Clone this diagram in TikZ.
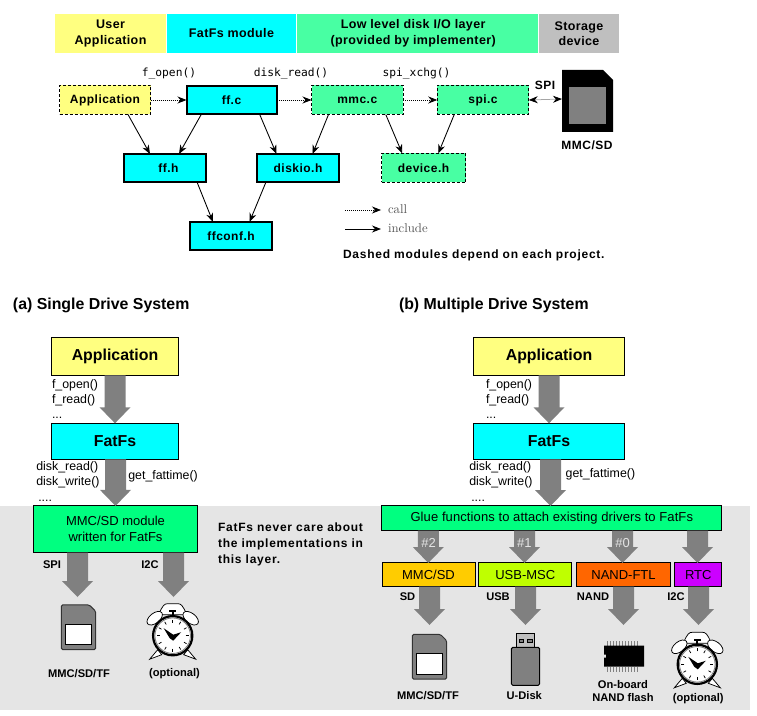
\documentclass[tikz,border=0pt]{standalone}
\usepackage{fontspec}
\setsansfont{Liberation Sans}
\setmonofont{DejaVu Sans Mono}
\usetikzlibrary{arrows.meta}
\definecolor{cFFFF80}{RGB}{255,255,128}
\definecolor{c00FFFF}{RGB}{0,255,255}
\definecolor{c48FFA3}{RGB}{72,255,163}
\definecolor{cBFBFBF}{RGB}{191,191,191}
\definecolor{c00FF80}{RGB}{0,255,128}
\definecolor{c808080}{RGB}{128,128,128}
\definecolor{cE5E5E5}{RGB}{229,229,229}
\definecolor{cFFCC00}{RGB}{255,204,0}
\definecolor{cBFFF00}{RGB}{191,255,0}
\definecolor{cFF6600}{RGB}{255,102,0}
\definecolor{cCC00FF}{RGB}{204,0,255}
\definecolor{c555555}{RGB}{85,85,85}
\tikzset{
  plainfont/.style={font=\sffamily\fontsize{10.4}{12.8}\selectfont},
  boldfont/.style={font=\sffamily\bfseries\fontsize{9.6}{12.8}\selectfont\addfontfeature{LetterSpace=4}},
  notefont/.style={font=\sffamily\bfseries\fontsize{9.6}{12.8}\selectfont\addfontfeature{LetterSpace=6.3}},
  iconfont/.style={font=\sffamily\bfseries\fontsize{8.9}{10.4}\selectfont},
  titlefont/.style={font=\sffamily\bfseries\fontsize{12.7}{15}\selectfont},
  headbar/.style={inner sep=0pt, font=\sffamily\bfseries\fontsize{10}{12.4}\selectfont\addfontfeature{LetterSpace=3}, align=center},
  modsolid/.style={draw=black, line width=1.6pt, fill=c00FFFF, inner sep=0pt, boldfont},
  moddash/.style={draw=black, line width=0.8pt, dash pattern=on 2.4pt off 1.6pt, inner sep=0pt, boldfont},
  tierbox/.style={draw=black, line width=0.8pt, inner sep=0pt, plainfont, align=center},
  apilabel/.style={font=\sffamily\fontsize{9.9}{12}\selectfont, inner sep=0pt, anchor=west},
  monolabel/.style={font=\ttfamily\fontsize{9}{11}\selectfont, inner sep=0pt},
  slotlabel/.style={plainfont, text=cE5E5E5, inner sep=0pt},
  keylabel/.style={anchor=west, text=c555555, font=\fontsize{10.2}{12}\selectfont},
  calledge/.style={draw=black, line width=0.6pt, densely dotted, -{Stealth[length=7.2pt,width=5.6pt]}},
  incledge/.style={draw=black, line width=0.7pt, -{Stealth[length=7.2pt,width=5.6pt]}},
  sdicon/.pic={
    \path[draw=black!80, line width=0.8pt, fill=c808080, rounded corners=1.2pt]
      (-17.2,-22.4) -- (10.8,-22.4) -- (17.2,-16) -- (17.2,22.4) -- (-17.2,22.4) -- cycle;
    \path[draw=black, line width=0.8pt, fill=white] (-13.2,-3) rectangle (13.2,17.4);
  },
  clockicon/.pic={
    \path[draw=black, line width=0.6pt, fill=white] (-14,-21) .. controls (-10,-31) and (-8,-32) .. (-5,-32)
      -- (5,-32) .. controls (8,-32) and (10,-31) .. (14,-21) -- cycle;
    \path[draw=black, line width=0.6pt, fill=white, rotate around={-38:(-18,-17.5)}] (-18,-17.5) ellipse (9 and 5);
    \path[draw=black, line width=0.6pt, fill=white, rotate around={38:(18,-17.5)}] (18,-17.5) ellipse (9 and 5);
    \path[fill=black] (-3.5,-25.5) rectangle (3.5,-23.5);
    \path[fill=black] (-1,-24) rectangle (1,-19);
    \path[draw=black, line width=0.6pt, fill=white] (-15,14) -- (-23,23.5) -- (-11,19) -- cycle;
    \path[draw=black, line width=0.6pt, fill=white] (15,14) -- (23,23.5) -- (11,19) -- cycle;
    \path[draw=black, line width=1.8pt, fill=white] (0,0) circle (19.6);
    \path[draw=c808080, line width=0.7pt] (0,0) circle (17.8);
    \foreach \tickangle in {0,30,...,330}
      \path[draw=black, line width=0.6pt] (\tickangle:13) -- (\tickangle:16);
    \path[fill=black] (-9,-7.5) -- (0.5,-1) -- (8.5,-3.5) -- (0.5,5) -- (-3,2.5) -- cycle;
  },
  nandicon/.pic={
    \foreach \pinx in {0,1,...,10} {
      \path[draw=c808080, line width=0.8pt] (3.5+\pinx*3,-4.7) -- (3.5+\pinx*3,0);
      \path[draw=c808080, line width=0.8pt] (3.5+\pinx*3,21) -- (3.5+\pinx*3,26.5);
    }
    \path[fill=black] (0,0) -- (40,0) -- (40,21) -- (0,21) -- (0,12) -- (2,12) -- (2,9) -- (0,9) -- cycle;
  },
  usbicon/.pic={
    \path[draw=black, line width=0.8pt, fill=cBFBFBF] (5,0) rectangle (23.4,14);
    \path[draw=black, line width=0.8pt, fill=c808080] (8,6) rectangle (12.4,9.4);
    \path[draw=black, line width=0.8pt, fill=c808080] (16.4,6) rectangle (20.8,9.4);
    \path[draw=black, line width=0.8pt, fill=c808080, rounded corners=1.2pt] (0,14) rectangle (28.4,52);
  }
}
% block arrow: from anchor #1 straight down to tip #2
\newcommand{\blockarrow}[2]{%
  \path[fill=c808080] ([xshift=-8.4pt]#2 |- #1) -- ([xshift=8.4pt]#2 |- #1) --
    ([xshift=8.4pt,yshift=-12.8pt]#2) -- ([xshift=12.4pt,yshift=-12.8pt]#2) -- (#2) --
    ([xshift=-12.4pt,yshift=-12.8pt]#2) -- ([xshift=-8.4pt,yshift=-12.8pt]#2) -- cycle;}
\begin{document}
\begin{tikzpicture}[y=0.80pt,x=0.80pt,yscale=-1, inner sep=0pt, outer sep=0pt]
  \useasboundingbox (0,0) rectangle (757,716);
  \path[fill=cE5E5E5] (0,506) rectangle (750,710);

  % top legend bar
  \node[headbar, fill=cFFFF80, minimum width=88.8pt, minimum height=31.6pt] (barapp) at (110.5,33.5) {User\\Application};
  \node[headbar, fill=c00FFFF, minimum width=103.2pt, minimum height=31.6pt] (barfat) at (231.5,33.5) {FatFs module};
  \node[headbar, fill=c48FFA3, minimum width=192.8pt, minimum height=31.6pt] (barlow) at (417.5,33.5) {\hspace*{-7pt}Low level disk I/O layer\\\hspace*{-7pt}(provided by implementer)};
  \node[headbar, fill=cBFBFBF, minimum width=64pt, minimum height=31.6pt] (barsto) at (579,33.5) {Storage\\device};

  % module dependency
  \node[moddash, fill=cFFFF80, minimum width=72.8pt, minimum height=23.2pt] (appc) at (105,100) {Application};
  \node[modsolid, minimum width=72pt, minimum height=22.4pt] (ffc) at (231.5,100) {ff.c};
  \node[moddash, fill=c48FFA3, minimum width=73.2pt, minimum height=23.2pt] (mmcc) at (357.25,100) {mmc.c};
  \node[moddash, fill=c48FFA3, minimum width=73.2pt, minimum height=23.2pt] (spic) at (483,100) {spi.c};
  \node[modsolid, minimum width=66pt, minimum height=22.4pt] (ffh) at (165,168) {\hspace*{5.5pt}ff.h};
  \node[modsolid, minimum width=66pt, minimum height=22.4pt] (diskioh) at (298,168) {diskio.h};
  \node[modsolid, minimum width=66pt, minimum height=22.4pt] (ffconfh) at (231,236) {ffconf.h};
  \node[moddash, fill=c48FFA3, minimum width=67.2pt, minimum height=23.2pt] (deviceh) at (423.5,168) {device.h};

  \path[fill=black] (562,70) -- (603,70) -- (613,80) -- (613,132) -- (562,132) -- cycle;
  \path[fill=c808080] (569,87) rectangle (606,124);
  \coordinate (cardport) at (562,99);
  \node[boldfont] (cardname) at (587,145) {MMC/SD};
  \node[boldfont] (spiname) at (545,85) {SPI};

  \node[monolabel] (fopenname) at (169,73.5) {f\_open()};
  \node[monolabel] (dreadname) at (291,73.5) {disk\_read()};
  \node[monolabel] (sxchgname) at (416.5,73.5) {spi\_xchg()};

  \path[calledge] (appc) -- (ffc);
  \path[calledge] (ffc) -- (mmcc);
  \path[calledge] (mmcc) -- (spic);
  \path[calledge, {Stealth[length=7.2pt,width=5.6pt]}-{Stealth[length=7.2pt,width=5.6pt]}] (spic.east) -- (cardport);
  \path[incledge] ([xshift=18.4pt]appc.south) -- ([xshift=-12pt]ffh.north);
  \path[incledge] ([xshift=-24pt]ffc.south) -- ([xshift=11.2pt]ffh.north);
  \path[incledge] ([xshift=22.4pt]ffc.south) -- ([xshift=-17.2pt]diskioh.north);
  \path[incledge] ([xshift=-23pt]mmcc.south) -- ([xshift=11.6pt]diskioh.north);
  \path[incledge] ([xshift=22.8pt]mmcc.south) -- ([xshift=-17pt]deviceh.north);
  \path[incledge] ([xshift=-23pt]spic.south) -- ([xshift=11.8pt]deviceh.north);
  \path[incledge] ([xshift=25.6pt]ffh.south) -- ([xshift=-14.4pt]ffconfh.north);
  \path[incledge] ([xshift=-25.6pt]diskioh.south) -- ([xshift=14.8pt]ffconfh.north);

  % key
  \coordinate (callfrom) at (345,210);
  \coordinate (callto) at (381,210);
  \coordinate (inclfrom) at (345,229);
  \coordinate (inclto) at (381,229);
  \path[calledge] (callfrom) -- (callto);
  \path[incledge] (inclfrom) -- (inclto);
  \node[keylabel] (callname) at (388,209) {call};
  \node[keylabel] (inclname) at (388,228) {include};
  \node[notefont, anchor=west] (dashnote) at (343,255) {Dashed modules depend on each project.};

  % single drive
  \node[titlefont, anchor=west] (titlea) at (13,305.5) {(a) Single Drive System};
  \node[tierbox, fill=cFFFF80, minimum width=101.9pt, minimum height=30.4pt, titlefont] (appa) at (115,356.3) {Application};
  \node[tierbox, fill=c00FFFF, minimum width=101.9pt, minimum height=28.8pt, titlefont] (fata) at (115,441.3) {FatFs};
  \node[tierbox, fill=c00FF80, minimum width=131.2pt, minimum height=37.4pt] (mmca) at (115.5,529.3) {MMC/SD module\\written for FatFs};
  \coordinate (cardtipa) at (77.5,597);
  \coordinate (clocktipa) at (173.5,597);
  \blockarrow{appa.south}{fata.north}
  \blockarrow{fata.south}{mmca.north}
  \blockarrow{mmca.south}{cardtipa}
  \blockarrow{mmca.south}{clocktipa}
  \node[apilabel] (fopena) at (52,385.7) {f\_open()};
  \node[apilabel] (freada) at (52,400.4) {f\_read()};
  \node[apilabel] (dotsa) at (52,418) {...};
  \node[apilabel] (dreada) at (36.3,467.4) {disk\_read()};
  \node[apilabel] (dwritea) at (36.3,482.4) {disk\_write()};
  \node[apilabel] (dotsb) at (38.3,500.5) {....};
  \node[apilabel] (fattimea) at (128.3,476.4) {get\_fattime()};
  \node[iconfont] (spia) at (52,565) {SPI};
  \node[iconfont] (ictwoa) at (150,565) {I2C};
  \node[notefont, anchor=west, align=left] (carenote) at (218,544) {FatFs never care about\\the implementations in\\this layer.};
  \pic[transform shape] at (78.5,627.3) {sdicon};
  \pic[transform shape] at (172.7,635.7) {clockicon};
  \node[iconfont] (carda) at (79,674) {MMC/SD/TF};
  \node[iconfont] (opta) at (174.5,674) {(optional)};

  % multiple drive
  \node[titlefont, anchor=west] (titleb) at (399,305.5) {(b) Multiple Drive System};
  \node[tierbox, fill=cFFFF80, minimum width=121.1pt, minimum height=30.4pt, titlefont] (appb) at (549,356.3) {Application};
  \node[tierbox, fill=c00FFFF, minimum width=121.1pt, minimum height=28.8pt, titlefont] (fatb) at (549,441.3) {FatFs};
  \node[tierbox, fill=c00FF80, minimum width=271.8pt, minimum height=19.8pt] (glue) at (551.8,518.3) {\addfontfeature{LetterSpace=0.8}Glue functions to attach existing drivers to FatFs};
  \node[tierbox, fill=cFFCC00, minimum width=74.4pt, minimum height=19pt] (mmcb) at (428.5,574.8) {MMC/SD};
  \node[tierbox, fill=cBFFF00, minimum width=74.2pt, minimum height=19pt] (usbb) at (525.3,574.8) {USB-MSC};
  \node[tierbox, fill=cFF6600, minimum width=75.5pt, minimum height=19pt] (nandb) at (623.5,574.8) {NAND-FTL};
  \node[tierbox, fill=cCC00FF, minimum width=37.4pt, minimum height=19pt] (rtcb) at (698.3,574.8) {RTC};
  \coordinate (gluetip) at (550.5,506);
  \coordinate (slottwo) at (428.3,563);
  \coordinate (slotone) at (524.5,563);
  \coordinate (slotzero) at (622.5,563);
  \coordinate (slotrtc) at (697.5,563);
  \coordinate (sdtip) at (429.5,625);
  \coordinate (usbtip) at (525.5,625);
  \coordinate (nandtip) at (623.5,625);
  \coordinate (rtctip) at (698.5,625);
  \blockarrow{appb.south}{fatb.north}
  \blockarrow{fatb.south}{gluetip}
  \blockarrow{glue.south}{slottwo}
  \blockarrow{glue.south}{slotone}
  \blockarrow{glue.south}{slotzero}
  \blockarrow{glue.south}{slotrtc}
  \blockarrow{mmcb.south}{sdtip}
  \blockarrow{usbb.south}{usbtip}
  \blockarrow{nandb.south}{nandtip}
  \blockarrow{rtcb.south}{rtctip}
  \node[apilabel] (fopenb) at (486,385.7) {f\_open()};
  \node[apilabel] (freadb) at (486,400.4) {f\_read()};
  \node[apilabel] (dotsc) at (486,418) {...};
  \node[apilabel] (dreadb) at (469.3,467.4) {disk\_read()};
  \node[apilabel] (dwriteb) at (469.3,482.4) {disk\_write()};
  \node[apilabel] (dotsd) at (471.3,500.5) {....};
  \node[apilabel] (fattimeb) at (565.7,474.7) {get\_fattime()};
  \node[slotlabel] (numtwo) at (428.7,542.7) {\#2};
  \node[slotlabel] (numone) at (524.3,542.7) {\#1};
  \node[slotlabel] (numzero) at (622.7,542.7) {\#0};
  \node[iconfont] (sdb) at (407.5,596.7) {SD};
  \node[iconfont] (usbname) at (498,596.7) {USB};
  \node[iconfont] (nandname) at (593,596.7) {NAND};
  \node[iconfont] (ictwob) at (676,596.7) {I2C};
  \pic[transform shape] at (429.5,656.7) {sdicon};
  \pic[transform shape] at (511.3,633.3) {usbicon};
  \pic[transform shape] at (604,645.7) {nandicon};
  \pic[transform shape] at (697.3,664.3) {clockicon};
  \node[iconfont] (cardb) at (428,695.7) {MMC/SD/TF};
  \node[iconfont] (udisk) at (524.3,695.7) {U-Disk};
  \node[iconfont, align=center] (nandflash) at (623,691) {On-board\\NAND flash};
  \node[iconfont] (optb) at (698.3,698.7) {(optional)};
\end{tikzpicture}
\end{document}
